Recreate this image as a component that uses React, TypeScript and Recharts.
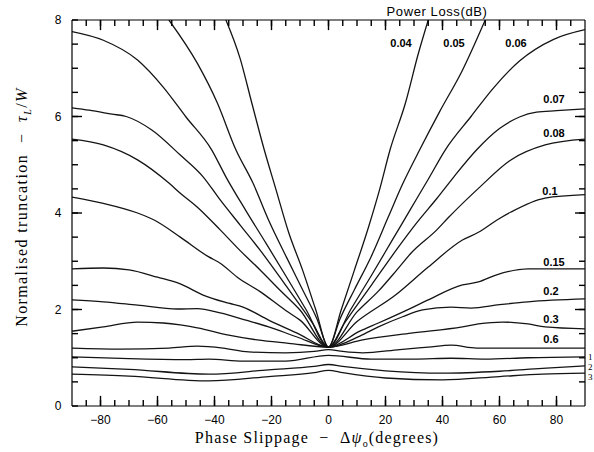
import React from 'react';
import { LineChart, Line, XAxis, YAxis, ReferenceLine } from 'recharts';

type Pt = [number, number];

// ---- curve data: [phase slippage (deg), normalised truncation] ----
const loss004: Pt[] = [[-36, 8], [-31, 7.2], [-27, 6.3], [-22.5, 5.3], [-18.5, 4.5], [-14, 3.6], [-9, 2.8], [-4.5, 2.0], [0, 1.22], [4.5, 2.0], [9, 2.8], [14, 3.7], [18, 4.5], [21.6, 5.31], [27, 6.28], [31.5, 7.3], [35, 8]];
const loss005: Pt[] = [[-56, 8], [-46, 7.1], [-39, 6.28], [-32.5, 5.31], [-26.5, 4.62], [-21, 3.85], [-14.8, 3.09], [-9, 2.4], [-4, 1.8], [0, 1.22], [4, 1.8], [9, 2.4], [15, 3.1], [21, 3.92], [26, 4.6], [32, 5.31], [39, 6.1], [47, 6.96], [55, 8]];
const loss006: Pt[] = [[-90, 7.76], [-79, 7.58], [-67, 7.17], [-58, 6.61], [-50, 5.99], [-41, 5.31], [-36, 4.75], [-29, 4.05], [-22, 3.38], [-15, 2.7], [-7.8, 1.99], [0, 1.22], [7.8, 2.0], [15, 2.7], [22, 3.4], [29, 4.1], [35, 4.7], [41, 5.31], [50, 6.0], [58, 6.6], [67, 7.15], [79, 7.6], [90, 7.8]];
const loss007: Pt[] = [[-90, 6.18], [-84, 6.13], [-76, 6.05], [-71, 6.0], [-62, 5.72], [-52, 5.2], [-44, 4.75], [-38, 4.27], [-31, 3.75], [-24, 3.23], [-15, 2.5], [-5.6, 1.72], [0, 1.22], [5.6, 1.72], [15, 2.5], [24, 3.25], [31, 3.8], [38, 4.3], [44, 4.75], [52, 5.31], [60, 5.75], [67, 5.99], [73, 6.09], [80, 6.12], [90, 6.16]];
const loss008: Pt[] = [[-90, 5.53], [-79, 5.41], [-67, 5.1], [-56, 4.62], [-52, 4.41], [-46, 4.12], [-38, 3.65], [-31, 3.22], [-24, 2.82], [-17, 2.4], [-10, 1.99], [0, 1.22], [10, 1.95], [17.5, 2.38], [24, 2.82], [29, 3.17], [38, 3.65], [42, 3.9], [52.6, 4.51], [64, 5.1], [76, 5.41], [90, 5.53]];
const loss010: Pt[] = [[-90, 4.33], [-79, 4.2], [-67, 4.0], [-61, 3.85], [-52, 3.5], [-42, 3.09], [-38, 2.96], [-32, 2.67], [-24, 2.37], [-15, 1.98], [-10, 1.78], [0, 1.22], [10, 1.75], [23.5, 2.3], [35, 2.88], [47, 3.44], [52.6, 3.6], [59, 3.85], [64, 4.02], [76, 4.31], [90, 4.38]];
const loss015: Pt[] = [[-90, 2.84], [-79, 2.86], [-70, 2.82], [-60, 2.67], [-52, 2.53], [-44, 2.3], [-35, 2.13], [-30, 2.05], [-21, 1.78], [-11, 1.51], [0, 1.22], [11, 1.55], [17.5, 1.72], [29, 2.03], [35, 2.2], [47, 2.51], [52.6, 2.57], [59, 2.72], [70, 2.84], [90, 2.84]];
const loss020: Pt[] = [[-90, 2.2], [-79, 2.16], [-67, 2.09], [-53, 2.01], [-46, 2.02], [-38, 1.93], [-29, 1.78], [-21, 1.64], [-11, 1.43], [0, 1.22], [11, 1.45], [17.5, 1.64], [26, 1.85], [33, 1.99], [43, 2.05], [50, 2.03], [60, 2.1], [70, 2.16], [90, 2.22]];
const loss030: Pt[] = [[-90, 1.55], [-79, 1.64], [-67, 1.74], [-58, 1.72], [-52, 1.68], [-46, 1.62], [-35, 1.47], [-25, 1.37], [-14, 1.3], [0, 1.22], [12, 1.37], [29, 1.51], [47, 1.64], [52.6, 1.7], [61, 1.74], [70, 1.7], [76, 1.64], [90, 1.6]];
const loss060: Pt[] = [[-90, 1.2], [-73, 1.18], [-56, 1.2], [-46, 1.24], [-37, 1.2], [-28, 1.12], [-15, 1.1], [-5, 1.13], [0, 1.17], [5, 1.13], [12, 1.1], [25, 1.17], [35, 1.22], [43, 1.26], [52, 1.2], [70, 1.2], [90, 1.2]];
const loss1: Pt[] = [[-90, 1.02], [-70, 0.98], [-50, 0.96], [-42, 0.97], [-30, 0.93], [-15, 0.93], [0, 1.05], [15, 0.97], [30, 0.97], [43, 0.99], [55, 0.97], [70, 1.0], [90, 1.02]];
const loss2: Pt[] = [[-90, 0.81], [-70, 0.76], [-42, 0.66], [-21, 0.75], [-5, 0.82], [0, 0.86], [5, 0.82], [20, 0.73], [40, 0.68], [60, 0.72], [75, 0.78], [90, 0.83]];
const loss3: Pt[] = [[-90, 0.66], [-70, 0.62], [-42, 0.52], [-21, 0.61], [-5, 0.69], [0, 0.74], [5, 0.69], [20, 0.58], [40, 0.54], [60, 0.61], [75, 0.66], [90, 0.68]];

const curves: Pt[][] = [loss004, loss005, loss006, loss007, loss008, loss010, loss015, loss020, loss030, loss060, loss1, loss2, loss3];
const curveLabels: string[] = ['0.04', '0.05', '0.06', '0.07', '0.08', '0.1', '0.15', '0.2', '0.3', '0.6', '1', '2', '3'];

// ---- axes ----
const xDomain: [number, number] = [-90, 90];
const yDomain: [number, number] = [0, 8];
const xMajor: number[] = [-80, -60, -40, -20, 0, 20, 40, 60, 80];
const xTicks: number[] = [-85, -80, -75, -70, -65, -60, -55, -50, -45, -40, -35, -30, -25, -20, -15, -10, -5, 0, 5, 10, 15, 20, 25, 30, 35, 40, 45, 50, 55, 60, 65, 70, 75, 80, 85];
const yMajor: number[] = [0, 2, 4, 6, 8];
const yTicks: number[] = [0, 0.5, 1, 1.5, 2, 2.5, 3, 3.5, 4, 4.5, 5, 5.5, 6, 6.5, 7, 7.5, 8];

// ---- layout (pixels / styles) ----
const W = 594;
const H = 452;
const MINOR_LEN = 6; // native inward tick length (px)
const X_TICK_MAJOR = 0.21; // extra length of major ticks, in y units (~10 px)
const Y_TICK_MAJOR = 3.5; // in x units (~10 px)

const labelPos: { x: number; y: number; anchor: string; serif?: boolean }[] = [
  { x: 401, y: 43, anchor: 'middle' },
  { x: 454, y: 43, anchor: 'middle' },
  { x: 516, y: 43, anchor: 'middle' },
  { x: 554, y: 99, anchor: 'middle' },
  { x: 554, y: 133, anchor: 'middle' },
  { x: 550, y: 191, anchor: 'middle' },
  { x: 554, y: 262, anchor: 'middle' },
  { x: 551, y: 291, anchor: 'middle' },
  { x: 551, y: 319, anchor: 'middle' },
  { x: 551, y: 339, anchor: 'middle' },
  { x: 588, y: 356, anchor: 'start', serif: true },
  { x: 588, y: 366, anchor: 'start', serif: true },
  { x: 588, y: 376, anchor: 'start', serif: true },
];

const INK = '#000';
const SANS = '"Liberation Sans", Arial, sans-serif';
const SERIF = '"Liberation Serif", "Times New Roman", serif';

const fmt = (v: number) => (v < 0 ? '\u2212' + Math.abs(v) : String(v));

// with tickSize = -MINOR_LEN and tickMargin = 0 the tick text anchor sits MINOR_LEN px inside the axis line
const bottomTick = (p: any) => {
  const v = p.payload.value;
  if (!xMajor.includes(v)) return <g key={'b' + v} />;
  return (
    <text key={'b' + v} x={Number(p.x)} y={Number(p.y) + MINOR_LEN + 18} textAnchor="middle"
      fontFamily={SANS} fontSize={12} fill={INK}>
      {fmt(v)}
    </text>
  );
};
const leftTick = (p: any) => {
  const v = p.payload.value;
  if (!yMajor.includes(v)) return <g key={'l' + v} />;
  return (
    <text key={'l' + v} x={Number(p.x) - MINOR_LEN - 14} y={Number(p.y) + 4} textAnchor="middle"
      fontFamily={SANS} fontSize={12} fill={INK}>
      {v}
    </text>
  );
};
const emptyTick = (p: any) => <g key={'e' + p.index} />;

const majorSegments: { key: string; seg: { x: number; y: number }[] }[] = [];
xMajor.forEach((v) => {
  majorSegments.push({ key: 'xb' + v, seg: [{ x: v, y: yDomain[0] }, { x: v, y: yDomain[0] + X_TICK_MAJOR }] });
  majorSegments.push({ key: 'xt' + v, seg: [{ x: v, y: yDomain[1] - X_TICK_MAJOR }, { x: v, y: yDomain[1] }] });
});
yMajor.slice(1, -1).forEach((v) => {
  majorSegments.push({ key: 'yl' + v, seg: [{ x: xDomain[0], y: v }, { x: xDomain[0] + Y_TICK_MAJOR, y: v }] });
  majorSegments.push({ key: 'yr' + v, seg: [{ x: xDomain[1] - Y_TICK_MAJOR, y: v }, { x: xDomain[1], y: v }] });
});

const tickLineStyle = { stroke: INK, strokeWidth: 1.4 };

export default function App() {
  return (
    <div style={{ position: 'absolute', left: 0, top: 0, width: W, height: H, overflow: 'hidden', background: '#fff' }}>
      <svg width={W} height={H} style={{ position: 'absolute', left: 0, top: 0 }}>
        <text x={437} y={16} textAnchor="middle" fontFamily={SANS} fontSize={13} letterSpacing={0.6} fill={INK}>
          Power Loss(dB)
        </text>
        {curveLabels.map((t, i) => (
          <text key={t} x={labelPos[i].x} y={labelPos[i].y + 4} textAnchor={labelPos[i].anchor}
            fontFamily={labelPos[i].serif ? SERIF : SANS} fontSize={labelPos[i].serif ? 9 : 11}
            fontWeight={labelPos[i].serif ? 400 : 700} fill={INK}>
            {t}
          </text>
        ))}
        <text x={317} y={443} textAnchor="middle" fontFamily={SERIF} fontSize={16} letterSpacing={1.2} fill={INK}>
          {'Phase Slippage \u00a0\u2212\u00a0 \u0394'}
          <tspan fontStyle="italic">{'\u03c8'}</tspan>
          <tspan fontSize={10} dy={4}>o</tspan>
          <tspan dy={-4}>(degrees)</tspan>
        </text>
        <text transform="translate(27,207) rotate(-90)" textAnchor="middle" fontFamily={SERIF} fontSize={16}
          letterSpacing={1.4} fill={INK}>
          {'Normalised truncation \u00a0\u2212\u00a0 '}
          <tspan fontStyle="italic">{'\u03c4'}</tspan>
          <tspan fontSize={10} dy={4} fontStyle="italic">L</tspan>
          <tspan dy={-4}>/</tspan>
          <tspan fontStyle="italic">W</tspan>
        </text>
      </svg>
      <div style={{ position: 'absolute', left: 0, top: 0 }}>
        <LineChart width={W} height={H} margin={{ top: 0, right: 9, bottom: 0, left: 0 }}>
          <XAxis xAxisId="b" type="number" dataKey="x" domain={xDomain} ticks={xTicks} interval={0}
            allowDataOverflow height={46} tickSize={-MINOR_LEN} tickMargin={0} tickLine={tickLineStyle}
            axisLine={{ stroke: INK, strokeWidth: 1.2 }} tick={bottomTick} />
          <XAxis xAxisId="t" orientation="top" type="number" dataKey="x" domain={xDomain} ticks={xTicks} interval={0}
            allowDataOverflow height={20} tickSize={-MINOR_LEN} tickMargin={0} tickLine={tickLineStyle}
            axisLine={{ stroke: INK, strokeWidth: 1.2 }} tick={emptyTick} />
          <YAxis yAxisId="l" type="number" domain={yDomain} ticks={yTicks} interval={0}
            allowDataOverflow width={72} tickSize={-MINOR_LEN} tickMargin={0} tickLine={tickLineStyle}
            axisLine={{ stroke: INK, strokeWidth: 1.2 }} tick={leftTick} />
          <ReferenceLine xAxisId="b" yAxisId="l" x={xDomain[1]} stroke={INK} strokeWidth={1.2} />
          {yTicks.slice(1, -1).map((v) => (
            <ReferenceLine key={'ryt' + v} xAxisId="b" yAxisId="l"
              segment={[{ x: xDomain[1] - 2.1, y: v }, { x: xDomain[1], y: v }]} stroke={INK} strokeWidth={1.4} />
          ))}
          {majorSegments.map((t) => (
            <ReferenceLine key={t.key} xAxisId="b" yAxisId="l" segment={t.seg} stroke={INK} strokeWidth={1.4} />
          ))}
          {curves.map((c, i) => (
            <Line key={curveLabels[i]} xAxisId="b" yAxisId="l" data={c.map(([x, y]) => ({ x, y }))}
              dataKey="y" type="monotone" dot={false} activeDot={false} stroke="#141414" strokeWidth={1.3}
              isAnimationActive={false} />
          ))}
        </LineChart>
      </div>
    </div>
  );
}
